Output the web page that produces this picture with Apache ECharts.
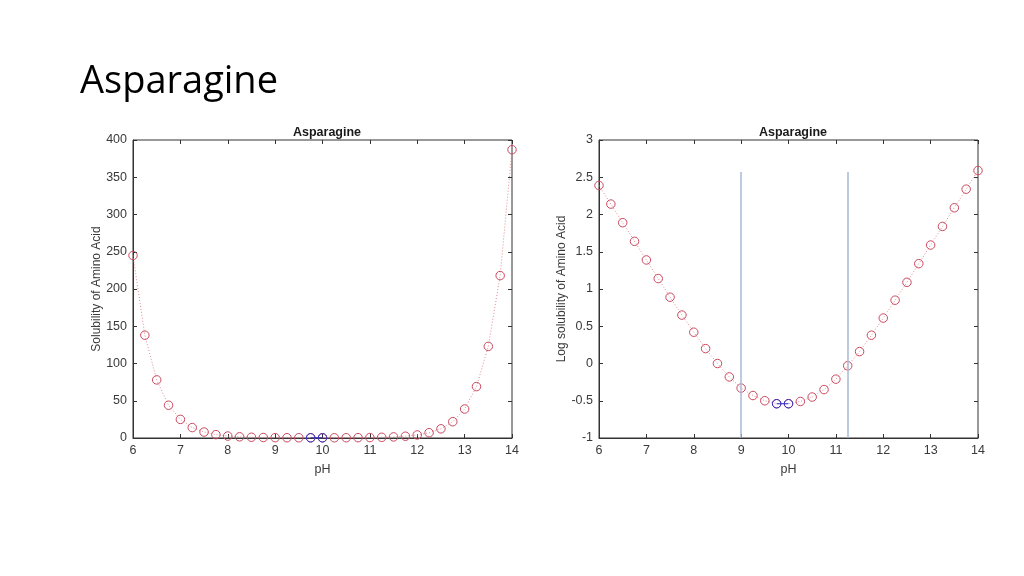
<!DOCTYPE html>
<html><head><meta charset="utf-8">
<script src="https://cdn.jsdelivr.net/npm/echarts@6/dist/echarts.min.js"></script>
<style>html,body{margin:0;padding:0;background:#fff}#c{width:1024px;height:576px}</style>
</head><body><div id="c"></div>
<script>
const pH = [6,6.25,6.5,6.75,7,7.25,7.5,7.75,8,8.25,8.5,8.75,9,9.25,9.5,9.75,10,10.25,10.5,10.75,11,11.25,11.5,11.75,12,12.25,12.5,12.75,13,13.25,13.5,13.75,14];
const solubility = [245,138,78,44,25,14,8,4.5,2.6,1.6,1.0,0.66,0.47,0.37,0.32,0.29,0.29,0.31,0.35,0.45,0.62,0.93,1.45,2.4,4.1,7.1,12.3,21.9,38.9,69,123,218,387];
const logSolubility = [2.39,2.14,1.89,1.64,1.39,1.14,0.89,0.65,0.42,0.20,0.0,-0.18,-0.33,-0.43,-0.50,-0.54,-0.54,-0.51,-0.45,-0.35,-0.21,-0.03,0.16,0.38,0.61,0.85,1.09,1.34,1.59,1.84,2.09,2.34,2.59];
const minimumPH = [9.75, 10];
const boundaryPH = [9, 11.25];
const boundaryTop = 2.57;
const leftY = {min:0, max:400, interval:50};
const rightY = {min:-1, max:3, interval:0.5};

const red = '#c9485e', blue = '#3030c8';
const font = 'Liberation Sans, Arial, sans-serif';
const axisColor = '#333333';
const chart = echarts.init(document.getElementById('c'));

function pairs(ys){ return pH.map((x,i)=>[x, ys[i]]); }
function minPairs(ys){ return pH.map((x,i)=>[x, ys[i]]).filter(p=>minimumPH.includes(p[0])); }

const grids = [
  {left:133, top:140, width:379, height:298, show:true, borderColor:axisColor, borderWidth:1},
  {left:599, top:140, width:379, height:298, show:true, borderColor:axisColor, borderWidth:1}
];
const axLabel = {color:'#3a3a3a', fontSize:12.5, fontFamily:font, margin:6};
function xAx(g, pos){
  return {type:'value', gridIndex:g, min:6, max:14, interval:1, position:pos,
    axisLine:{show:pos==='bottom', onZero:false, lineStyle:{color:axisColor}},
    axisTick:{show:true, inside:true, length:4, lineStyle:{color:axisColor}},
    axisLabel: pos==='bottom' ? axLabel : {show:false},
    splitLine:{show:false},
    name: pos==='bottom' ? 'pH' : '', nameLocation:'middle', nameGap:25,
    nameTextStyle:{color:'#3a3a3a', fontSize:12.5, fontFamily:font}};
}
function yAx(g, pos, cfg, name){
  return {type:'value', gridIndex:g, min:cfg.min, max:cfg.max, interval:cfg.interval, position:pos,
    axisLine:{show:pos==='left', onZero:false, lineStyle:{color:axisColor}},
    axisTick:{show:true, inside:true, length:4, lineStyle:{color:axisColor}},
    axisLabel: pos==='left' ? axLabel : {show:false},
    splitLine:{show:false},
    name: pos==='left' ? name : '', nameLocation:'middle', nameGap:29, nameRotate:90,
    nameTextStyle:{color:'#3a3a3a', fontSize:12, fontFamily:font}};
}

const redSeries = (xi, yi, ys) => ({type:'line', xAxisIndex:xi, yAxisIndex:yi, data:pairs(ys),
  symbol:'circle', symbolSize:8.5, showSymbol:true,
  itemStyle:{color:'rgba(255,255,255,0)', borderColor:red, borderWidth:1},
  lineStyle:{color:'#e08a90', width:1, type:[1,2]}, z:2, animation:false});
const blueSeries = (xi, yi, ys) => ({type:'line', xAxisIndex:xi, yAxisIndex:yi, data:minPairs(ys),
  symbol:'circle', symbolSize:8.5,
  itemStyle:{color:'rgba(255,255,255,0)', borderColor:blue, borderWidth:1},
  lineStyle:{color:blue, width:1}, z:3, animation:false});

const right = redSeries(2, 2, logSolubility);
right.markLine = {silent:true, symbol:'none', label:{show:false}, animation:false,
  lineStyle:{color:'#a9b9d6', width:1.5, type:'solid'},
  data: boundaryPH.map(x=>[{coord:[x, rightY.min]},{coord:[x, boundaryTop]}])};

chart.setOption({
  animation:false,
  title:[
    {text:'Asparagine', left:75, top:58, textStyle:{fontFamily:'Open Sans, Noto Sans, sans-serif', fontWeight:'normal', fontSize:38, color:'#000'}},
    {text:'Asparagine', left:322, top:121, textAlign:'center', textStyle:{fontFamily:font, fontWeight:'bold', fontSize:12.5, color:'#1a1a1a'}},
    {text:'Asparagine', left:788, top:121, textAlign:'center', textStyle:{fontFamily:font, fontWeight:'bold', fontSize:12.5, color:'#1a1a1a'}}
  ],
  grid:grids,
  xAxis:[xAx(0,'bottom'), xAx(0,'top'), xAx(1,'bottom'), xAx(1,'top')],
  yAxis:[yAx(0,'left',leftY,'Solubility of Amino Acid'), yAx(0,'right',leftY,''),
         yAx(1,'left',rightY,'Log solubility of Amino Acid'), yAx(1,'right',rightY,'')],
  series:[redSeries(0,0,solubility), blueSeries(0,0,solubility), right, blueSeries(2,2,logSolubility)]
});
</script></body></html>
